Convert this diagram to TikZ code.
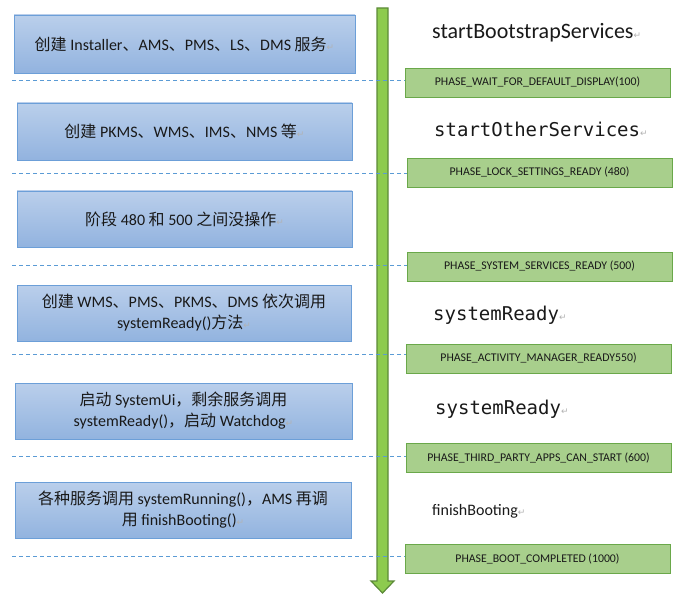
\documentclass[tikz,border=0pt]{standalone}
\usepackage{fontspec}
\setmainfont{Carlito}
\newfontfamily\cjk{Noto Sans CJK SC}
\newfontfamily\monofnt{DejaVu Sans Mono}
\newfontfamily\symfnt{DejaVu Sans}
\newcommand\zh[1]{{\cjk #1}}
\newcommand\pmark{{\symfnt\fontsize{9}{10}\selectfont\color{black!30}↵}}
\definecolor{stagetop}{HTML}{BACFEB}
\definecolor{stagebot}{HTML}{92B3DF}
\definecolor{stageline}{HTML}{6C9FD8}
\definecolor{phasefill}{HTML}{A8CF8C}
\definecolor{phaseline}{HTML}{6AA84A}
\definecolor{arrowfill}{HTML}{8DCB4E}
\definecolor{arrowline}{HTML}{5C8A38}
\definecolor{sepline}{HTML}{5B9BD5}

\begin{document}
\begin{tikzpicture}[x=1pt, y=-1pt]
  \tikzstyle{every node} = [inner sep = 0pt, text=black!90];
  \tikzstyle{stage} = [draw=stageline, top color=stagetop, bottom color=stagebot,
    minimum height=56pt, align=center, font=\fontsize{16}{21}\selectfont];
  \tikzstyle{phase} = [draw=phaseline, fill=phasefill, minimum width=265pt,
    minimum height=29pt, font=\fontsize{11.8}{13}\selectfont];
  \tikzstyle{call} = [anchor=west, font=\fontsize{22}{24}\selectfont];
  \tikzstyle{monocall} = [anchor=west, font=\monofnt\fontsize{19}{22}\selectfont];
  \tikzstyle{sep} = [sepline, line width=0.8pt, dash pattern=on 4pt off 3pt];
  \useasboundingbox (0,0) rectangle (684,601);

  % time line
  \draw[arrowline, fill=arrowfill, line width=1.2pt]
    (377,8) -- (388,8) -- (388,581) -- (394,581) -- (382.5,593)
    -- (371,581) -- (377,581) -- cycle;

  % what happens in each stage
  \node (s1) [stage, minimum width=341pt, minimum height=58pt] at (184.5,44)
    {\zh{创建} Installer\zh{、}AMS\zh{、}PMS\zh{、}LS\zh{、}DMS \zh{服务}\pmark};
  \node (s2) [stage, minimum width=335pt, minimum height=57pt] at (184.5,131.5)
    {\zh{创建} PKMS\zh{、}WMS\zh{、}IMS\zh{、}NMS \zh{等}\pmark};
  \node (s3) [stage, minimum width=335pt] at (184.5,219)
    {\zh{阶段} 480 \zh{和} 500 \zh{之间没操作}\pmark};
  \node (s4) [stage, minimum width=334pt] at (184,313)
    {\zh{创建} WMS\zh{、}PMS\zh{、}PKMS\zh{、}DMS \zh{依次调用}\\
     systemReady()\zh{方法}\pmark};
  \node (s5) [stage, minimum width=337pt] at (183.5,411)
    {\zh{启动} SystemUi\zh{，剩余服务调用}\\
     systemReady()\zh{，启动} Watchdog\pmark};
  \node (s6) [stage, minimum width=336pt] at (183,510)
    {\zh{各种服务调用} systemRunning()\zh{，}AMS \zh{再调}\\
     \zh{用} finishBooting()\pmark};

  % boot phases
  \node (ph1) [phase] at (537.5,82.5) {PHASE\_WAIT\_FOR\_DEFAULT\_DISPLAY(100)};
  \node (ph2) [phase] at (539.5,172.5) {PHASE\_LOCK\_SETTINGS\_READY (480)};
  \node (ph3) [phase] at (539.5,266.5) {PHASE\_SYSTEM\_SERVICES\_READY (500)};
  \node (ph4) [phase] at (538.5,358.5) {PHASE\_ACTIVITY\_MANAGER\_READY550)};
  \node (ph5) [phase] at (538.5,457.5) {PHASE\_THIRD\_PARTY\_APPS\_CAN\_START (600)};
  \node (ph6) [phase] at (537.5,558.5) {PHASE\_BOOT\_COMPLETED (1000)};

  % methods
  \node (m1) [call] at (432,33) {startBootstrapServices\pmark};
  \node (m2) [monocall] at (434,129) {startOtherServices\pmark};
  \node (m3) [monocall] at (433,315) {systemReady\pmark};
  \node (m4) [monocall] at (435,409) {systemReady\pmark};
  \node (m5) [anchor=west, font=\fontsize{16}{18}\selectfont] at (432,511)
    {finishBooting\pmark};

  % stage borders
  \foreach \i/\y in {1/80,2/173,3/265,4/354,5/456,6/556}{
    \coordinate (d\i) at (12,\y);
    \draw[sep] (d\i) -- (d\i -| ph\i.west);
  }
\end{tikzpicture}
\end{document}
